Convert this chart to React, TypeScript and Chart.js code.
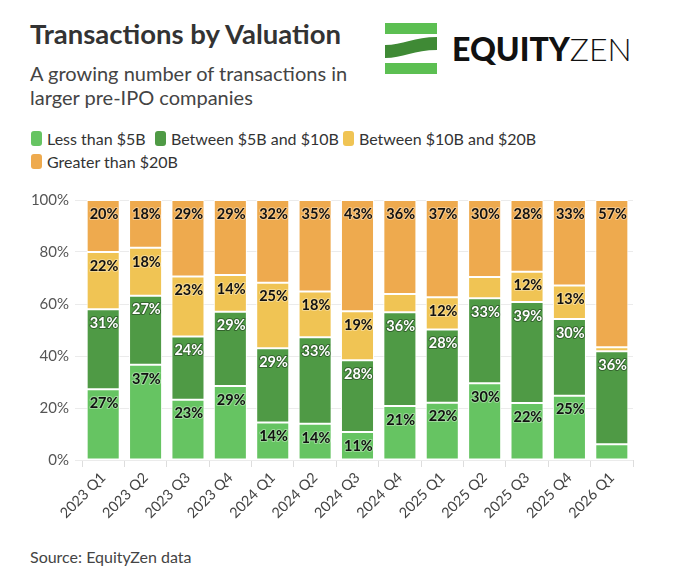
import React, { useEffect, useRef } from "react";
import { Chart, registerables } from "chart.js";

Chart.register(...registerables);

const categories = [
  "2023 Q1", "2023 Q2", "2023 Q3", "2023 Q4",
  "2024 Q1", "2024 Q2", "2024 Q3", "2024 Q4",
  "2025 Q1", "2025 Q2", "2025 Q3", "2025 Q4",
  "2026 Q1",
];

const seriesLabels = [
  "Less than $5B",
  "Between $5B and $10B",
  "Between $10B and $20B",
  "Greater than $20B",
];

const lessThan5B = [27.2, 36.6, 23.2, 28.5, 14.4, 13.9, 10.8, 20.8, 22.0, 29.5, 21.9, 24.7, 6.1];
const between5And10B = [30.8, 26.6, 24.3, 28.5, 28.6, 33.3, 27.6, 36.0, 28.2, 32.7, 38.9, 29.5, 35.7];
const between10And20B = [22.0, 18.4, 23.1, 14.2, 25.2, 17.6, 18.8, 7.0, 12.4, 8.2, 11.6, 12.9, 1.6];
const greaterThan20B = [20.0, 18.4, 29.4, 28.8, 31.8, 35.2, 42.8, 36.2, 37.4, 29.6, 27.6, 32.9, 56.6];

const yTicks = [0, 20, 40, 60, 80, 100];

const colors = ["#66c462", "#4f9a45", "#f0c454", "#eeaa4e"];
const labelColors = ["#111111", "#ffffff", "#111111", "#111111"];
const haloColors = ["rgba(255,255,255,0.35)", "rgba(0,0,0,0.35)", "rgba(255,255,255,0.35)", "rgba(255,255,255,0.35)"];

const FONT = "Lato, 'Open Sans', sans-serif";

const segmentLabels = {
  id: "segmentLabels",
  afterDatasetsDraw(chart: any) {
    const ctx = chart.ctx;
    ctx.save();
    ctx.font = `bold 14.5px ${FONT}`;
    ctx.textAlign = "left";
    ctx.textBaseline = "middle";
    ctx.lineJoin = "round";
    chart.data.datasets.forEach((ds: any, di: number) => {
      const meta = chart.getDatasetMeta(di);
      meta.data.forEach((el: any, i: number) => {
        const v = ds.data[i];
        if (v < 10) return;
        const left = el.x - el.width / 2;
        const t = Math.round(v) + "%";
        ctx.strokeStyle = haloColors[di];
        ctx.lineWidth = 2;
        ctx.strokeText(t, left + 3, el.y + 14);
        ctx.fillStyle = labelColors[di];
        ctx.fillText(t, left + 3, el.y + 14);
      });
    });
    ctx.restore();
  },
};

function ChartBox() {
  const ref = useRef<HTMLCanvasElement | null>(null);
  useEffect(() => {
    if (!ref.current) return;
    const data = [lessThan5B, between5And10B, between10And20B, greaterThan20B];
    const chart = new Chart(ref.current, {
      type: "bar",
      data: {
        labels: categories,
        datasets: data.map((d, i) => ({
          label: seriesLabels[i],
          data: d,
          backgroundColor: colors[i],
          borderColor: "#ffffff",
          borderWidth: 1,
          borderSkipped: false,
          categoryPercentage: 1,
          barPercentage: 0.78,
        })),
      },
      options: {
        animation: false,
        responsive: true,
        maintainAspectRatio: false,
        layout: { padding: { top: 12, right: 47, left: 0, bottom: 0 } },
        plugins: {
          legend: { display: false },
          tooltip: { enabled: false },
        },
        scales: {
          x: {
            stacked: true,
            grid: { drawOnChartArea: false, drawTicks: true, tickLength: 7, color: "#dddddd" },
            border: { display: false },
            ticks: {
              autoSkip: false,
              minRotation: 45,
              maxRotation: 45,
              padding: 2,
              color: "#444444",
              font: { family: FONT, size: 14.5 },
            },
            afterFit: (s: any) => { s.height = 85; },
          },
          y: {
            stacked: true,
            min: 0,
            max: 100,
            afterBuildTicks: (s: any) => { s.ticks = yTicks.map((v) => ({ value: v })); },
            grid: { color: "#ebebeb", tickLength: 7, drawTicks: true },
            border: { display: false },
            ticks: {
              padding: 6,
              color: "#555555",
              font: { family: FONT, size: 15 },
              callback: (v: any) => v + "%",
            },
            afterFit: (s: any) => { s.width = 82; },
          },
        },
      },
      plugins: [segmentLabels],
    });
    return () => chart.destroy();
  }, []);
  return (
    <div style={{ position: "absolute", left: 0, top: 185, width: 680, height: 360 }}>
      <canvas ref={ref} />
    </div>
  );
}

const legendX = [31, 155, 343, 31];
const legendY = [138, 138, 138, 161];

export default function App() {
  return (
    <div
      style={{
        position: "absolute",
        left: 0,
        top: 0,
        width: 680,
        height: 575,
        background: "#ffffff",
        fontFamily: FONT,
        overflow: "hidden",
      }}
    >
      <div
        style={{
          position: "absolute",
          left: 30,
          top: 17,
          fontSize: 27.5,
          fontWeight: 700,
          color: "#333333",
          whiteSpace: "nowrap",
          lineHeight: "34px",
        }}
      >
        Transactions by Valuation
      </div>
      <div
        style={{
          position: "absolute",
          left: 30,
          top: 61,
          fontSize: 20,
          color: "#444444",
          lineHeight: "24px",
          whiteSpace: "nowrap",
        }}
      >
        A growing number of transactions in
        <br />
        larger pre-IPO companies
      </div>

      <svg
        style={{ position: "absolute", left: 380, top: 18 }}
        width={280}
        height={62}
        viewBox="0 0 280 62"
      >
        <rect x={5} y={5} width={52} height={11} fill="#5cbf52" />
        <path
          d="M5 27 C 22 27, 35 19, 57 19 L 57 32 C 35 32, 22 40, 5 40 Z"
          fill="#3f8a35"
        />
        <rect x={5} y={45} width={52} height={11} fill="#5cbf52" />
        <text
          x={72}
          y={43}
          fontFamily="Lato, 'DejaVu Sans', sans-serif"
          fontSize={32}
          fill="#111111"
        >
          <tspan fontWeight={900}>EQUITY</tspan>
          <tspan fontWeight={300}>ZEN</tspan>
        </text>
      </svg>

      {seriesLabels.map((l, i) => (
        <div
          key={l}
          style={{
            position: "absolute",
            left: legendX[i],
            top: legendY[i] - 10,
            height: 20,
            display: "flex",
            alignItems: "center",
            whiteSpace: "nowrap",
            fontSize: 16,
            color: "#333333",
          }}
        >
          <span
            style={{
              display: "inline-block",
              width: 11,
              height: 15,
              borderRadius: 3,
              background: colors[i],
              marginRight: 5,
            }}
          />
          {l}
        </div>
      ))}

      <ChartBox />

      <div
        style={{
          position: "absolute",
          left: 30,
          top: 546,
          fontSize: 16,
          color: "#444444",
          whiteSpace: "nowrap",
          lineHeight: "22px",
        }}
      >
        Source: EquityZen data
      </div>
    </div>
  );
}
